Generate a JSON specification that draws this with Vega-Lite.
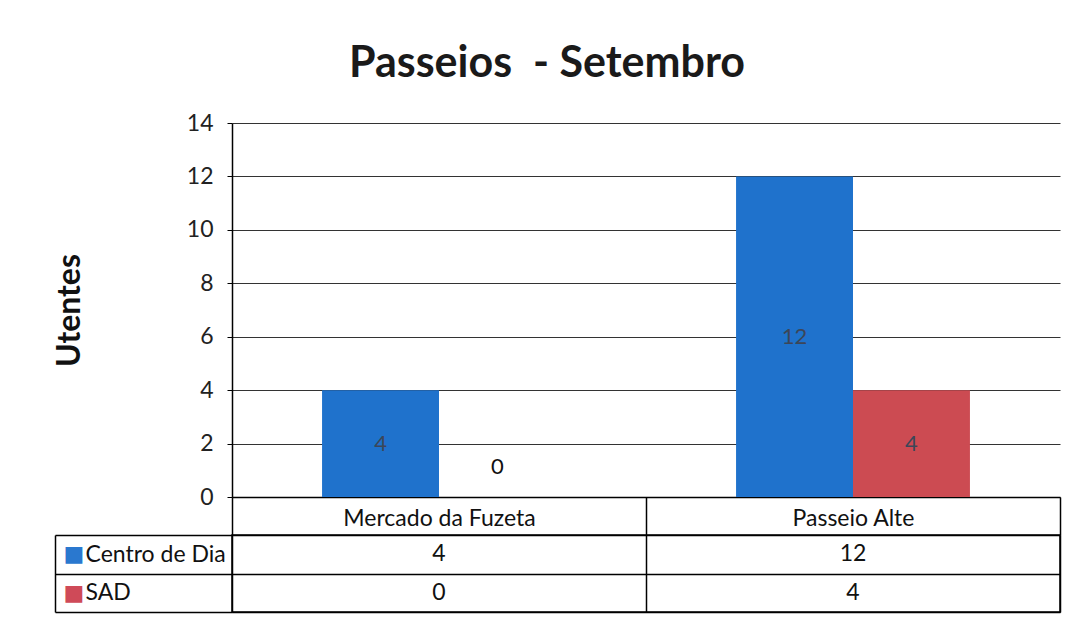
{
  "$schema": "https://vega.github.io/schema/vega-lite/v6.json",
  "background": "white",
  "padding": {"left": 53, "top": 43, "right": 10, "bottom": 8},
  "title": {"text": "Passeios \u00a0- Setembro", "fontSize": 43, "fontWeight": "bold", "font": "Lato", "color": "#1a1a1a", "anchor": "middle", "offset": 26, "dx": -10},
  "data": {"values": [
    {"cat": "Mercado da Fuzeta", "series": "Centro de Dia", "value": 4},
    {"cat": "Mercado da Fuzeta", "series": "SAD", "value": 0},
    {"cat": "Passeio Alte", "series": "Centro de Dia", "value": 12},
    {"cat": "Passeio Alte", "series": "SAD", "value": 4}
  ]},
  "bounds": "flush",
  "spacing": 38,
  "vconcat": [
    {
      "width": 828,
      "height": 374,
      "encoding": {
        "x": {"field": "cat", "type": "nominal", "sort": null,
          "scale": {"paddingInner": 0, "paddingOuter": 0},
          "axis": {"title": null, "orient": "bottom", "domain": true, "domainColor": "black", "domainWidth": 1.5,
            "ticks": true, "tickBand": "extent", "tickSize": 38, "tickColor": "black", "tickWidth": 1.5,
            "labelPadding": -28, "labelFontSize": 23, "labelFont": "Lato", "labelColor": "#111", "labelAngle": 0, "labelLimit": 400, "grid": false}},
        "xOffset": {"field": "series", "type": "nominal", "sort": ["Centro de Dia", "SAD"],
          "scale": {"paddingInner": 0, "paddingOuter": 0.77}}
      },
      "layer": [
        {
          "mark": {"type": "bar"},
          "encoding": {
            "y": {"field": "value", "type": "quantitative",
              "scale": {"domain": [0, 14], "nice": false},
              "axis": {"title": "Utentes", "titleFontSize": 32, "titleFont": "Lato", "titleFontWeight": "bold", "titleColor": "#111", "titlePadding": 100,
                "values": [0, 2, 4, 6, 8, 10, 12, 14], "labelFontSize": 23, "labelFont": "Lato", "labelColor": "#222", "labelPadding": 14,
                "ticks": true, "tickSize": 5, "tickColor": "black", "domain": true, "domainColor": "black", "domainWidth": 1.5,
                "grid": true, "gridColor": "#333", "gridWidth": 1.2}},
            "color": {"field": "series", "type": "nominal", "sort": ["Centro de Dia", "SAD"],
              "scale": {"domain": ["Centro de Dia", "SAD"], "range": ["#1f72cc", "#cc4b52"]}, "legend": null}
          }
        },
        {
          "transform": [{"filter": "datum.value > 0"}, {"calculate": "datum.value / 2", "as": "mid"}],
          "mark": {"type": "text", "fontSize": 22, "font": "Lato", "color": "#3c4658"},
          "encoding": {
            "y": {"field": "mid", "type": "quantitative"},
            "text": {"field": "value", "type": "quantitative"}
          }
        },
        {
          "transform": [{"filter": "datum.value == 0"}],
          "mark": {"type": "text", "fontSize": 22, "font": "Lato", "color": "#111", "dy": -30},
          "encoding": {
            "y": {"field": "value", "type": "quantitative"},
            "text": {"field": "value", "type": "quantitative"}
          }
        }
      ]
    },
    {
      "width": 828,
      "height": 77,
      "view": {"stroke": "black", "strokeWidth": 1.5},
      "encoding": {
        "x": {"field": "cat", "type": "nominal", "sort": null,
          "scale": {"paddingInner": 0, "paddingOuter": 0},
          "axis": {"title": null, "orient": "bottom", "labels": false, "ticks": false, "domain": false, "minExtent": 0, "maxExtent": 0,
            "grid": true, "tickBand": "extent", "gridColor": "black", "gridWidth": 1.5, "gridOpacity": 1}}
      },
      "layer": [
        {
          "mark": {"type": "text", "fontSize": 23, "font": "Lato", "color": "#111"},
          "encoding": {
            "y": {"field": "series", "type": "nominal", "sort": ["Centro de Dia", "SAD"],
              "scale": {"paddingInner": 0, "paddingOuter": 0},
              "axis": {"title": null, "orient": "left", "offset": 177, "domain": true, "domainColor": "black", "domainWidth": 1.5,
                "ticks": true, "tickSize": -177, "tickBand": "extent", "tickColor": "black", "tickWidth": 1.5,
                "labelAlign": "left", "labelPadding": 147, "labelFontSize": 23, "labelFont": "Lato", "labelColor": "#111",
                "grid": true, "gridColor": "black", "gridWidth": 1.5, "gridOpacity": 1}},
            "text": {"field": "value", "type": "quantitative"}
          }
        },
        {
          "mark": {"type": "text", "text": ""},
          "encoding": {
            "y": {"field": "series", "type": "nominal", "sort": ["Centro de Dia", "SAD"],
              "axis": {"title": null, "orient": "left", "offset": 177, "domain": false, "ticks": false, "grid": false,
                "labelExpr": "'■'", "labelAlign": "left", "labelPadding": -8, "labelFontSize": 22, "labelFont": "DejaVu Sans",
                "labelColor": {"condition": {"test": "datum.value === 'SAD'", "value": "#cf4a58"}, "value": "#2a78cf"}}}
          }
        }
      ],
      "resolve": {"axis": {"y": "independent"}}
    }
  ],
  "config": {
    "view": {"stroke": null},
    "font": "Lato"
  }
}
